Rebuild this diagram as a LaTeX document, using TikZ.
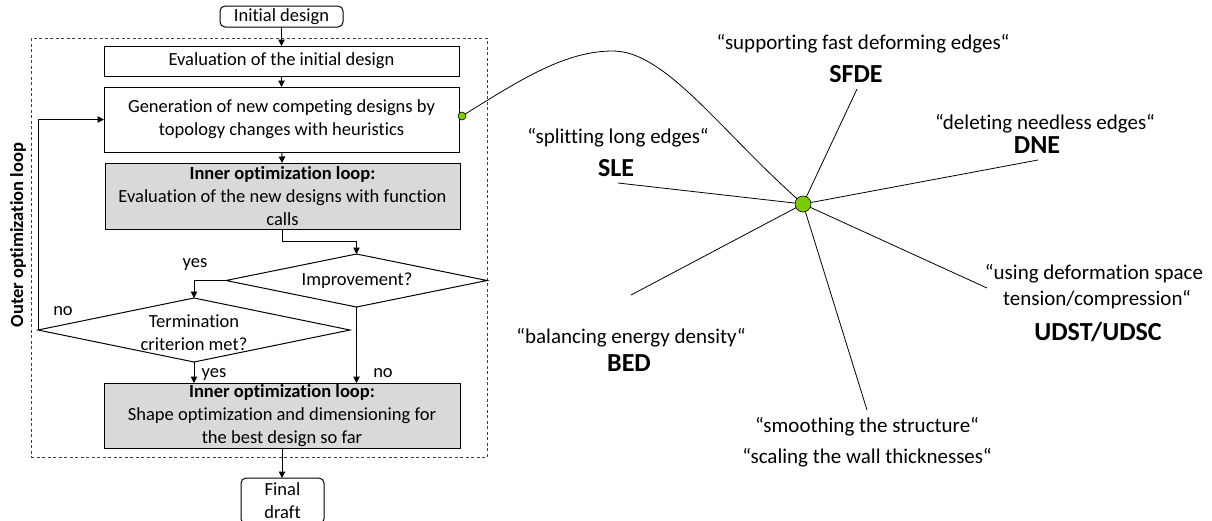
\documentclass[tikz,border=0pt]{standalone}
\usepackage{fontspec}
\setmainfont{Carlito}[Ligatures=NoCommon]
\usetikzlibrary{arrows.meta,shapes.geometric}
\definecolor{boxgray}{RGB}{217,217,217}
\definecolor{dotgreen}{RGB}{122,204,0}
\begin{document}
\begin{tikzpicture}[x=1pt,y=-1pt,
  every node/.style={inner sep=0pt, outer sep=0pt},
  flowtext/.style={font=\fontsize{18.5}{23}\selectfont, align=center},
  procbox/.style={draw, line width=1pt, flowtext},
  graybox/.style={procbox, fill=boxgray},
  termbox/.style={procbox, rounded corners=5pt},
  decision/.style={diamond, draw, line width=1pt, inner sep=0pt},
  flowarrow/.style={line width=1pt, -{Triangle[length=6.5pt,width=6.5pt]}},
  branchlabel/.style={font=\fontsize{18.5}{23}\selectfont, anchor=base},
  spoke/.style={line width=0.8pt},
  labeltext/.style={font=\fontsize{21}{26}\selectfont, anchor=base},
  acronym/.style={font=\fontsize{26}{30}\selectfont\bfseries, anchor=base},
  greendot/.style={circle, draw, fill=dotgreen, line width=0.6pt}
]
\useasboundingbox (0,0) rectangle (1212,520);
\clip (0,0) rectangle (1212,520);

% outer dashed loop
\node[draw=black!75, dash pattern=on 3pt off 2.5pt, line width=0.8pt,
      minimum width=456pt, minimum height=419pt] (outer) at (259,247.5) {};
\node[rotate=90, font=\fontsize{18.5}{23}\selectfont\bfseries] (outerlabel) at (18,235) {Outer optimization loop};

% flowchart nodes
\node[termbox, minimum width=123pt, minimum height=21pt] (init) at (281.5,16.5) {Initial design};
\node[procbox, minimum width=355pt, minimum height=30pt] (eval) at (281.5,61) {Evaluation of the initial design};
\node[procbox, minimum width=355pt, minimum height=65pt] (gen) at (281.5,119.5) {Generation of new competing designs by\\topology changes with heuristics};
\node[graybox, minimum width=355pt, minimum height=66pt] (inner) at (282.5,196) {\textbf{Inner optimization loop:}\\Evaluation of the new designs with function\\calls};
\node[decision, minimum width=261pt, minimum height=53pt] (impr) at (356.5,280.5) {};
\node[flowtext] (imprtext) at (357,281) {Improvement?};
\node[decision, minimum width=312pt, minimum height=64pt] (term) at (194,330) {};
\node[flowtext] (termtext) at (194,333) {Termination\\criterion met?};
\node[graybox, minimum width=356pt, minimum height=65pt] (shape) at (282,415.5) {\textbf{Inner optimization loop:}\\Shape optimization and dimensioning for\\the best design so far};
\node[termbox, minimum width=83pt, minimum height=46pt, anchor=north] (final) at (282.5,478) {Final\\draft};

% flowchart connectors
\draw[flowarrow] (init) -- (eval);
\draw[flowarrow] (eval) -- (gen);
\draw[flowarrow] (gen) -- (inner);
\draw[flowarrow] (inner.south) -- ++(0,12) -| (impr.north);
\draw[flowarrow] (impr.west) -| (term.north);
\draw[flowarrow] (term.west) |- (gen.west);
\draw[flowarrow] (term.south) -- (term.south |- shape.north);
\draw[flowarrow] (impr.south) -- (impr.south |- shape.north);
\draw[flowarrow] (shape.south) -- (shape.south |- final.north);

\node[branchlabel] (yes1) at (195,267) {yes};
\node[branchlabel] (no1) at (63,315) {no};
\node[branchlabel] (yes2) at (214,377) {yes};
\node[branchlabel] (no2) at (383,377) {no};

% right part
\node[greendot, minimum size=8pt] (gdot) at (462,116) {};
\node[greendot, minimum size=16pt] (hub) at (803,204) {};
\coordinate (peak) at (613,51);
\draw[spoke] (gdot) .. controls (520,80) and (565,51) .. (peak)
             .. controls (665,51) and (720,130) .. (hub);

\coordinate (eSLE) at (618,183);
\coordinate (eSFDE) at (857,89);
\coordinate (eDNE) at (1038,160);
\coordinate (eUDST) at (987,288);
\coordinate (eSM) at (867,410);
\coordinate (eBED) at (631,295);
\foreach \e in {eSLE,eSFDE,eDNE,eUDST,eSM,eBED} \draw[spoke] (hub) -- (\e);

\node[labeltext] (tSFDE) at (863,49) {“supporting fast deforming edges“};
\node[acronym] (aSFDE) at (856,82) {SFDE};
\node[labeltext] (tSLE) at (618,143) {“splitting long edges“};
\node[acronym] (aSLE) at (616,176) {SLE};
\node[labeltext] (tDNE) at (1045,129) {“deleting needless edges“};
\node[acronym] (aDNE) at (1037,153) {DNE};
\node[labeltext] (tUD1) at (1094,279) {“using deformation space};
\node[labeltext] (tUD2) at (1097,305) {tension/compression“};
\node[acronym] (aUD) at (1098,340) {UDST/UDSC};
\node[labeltext] (tBED) at (631,343) {“balancing energy density“};
\node[acronym] (aBED) at (629,371) {BED};
\node[labeltext] (tSM) at (867,432) {“smoothing the structure“};
\node[labeltext] (tSC) at (867,463) {“scaling the wall thicknesses“};
\end{tikzpicture}
\end{document}
